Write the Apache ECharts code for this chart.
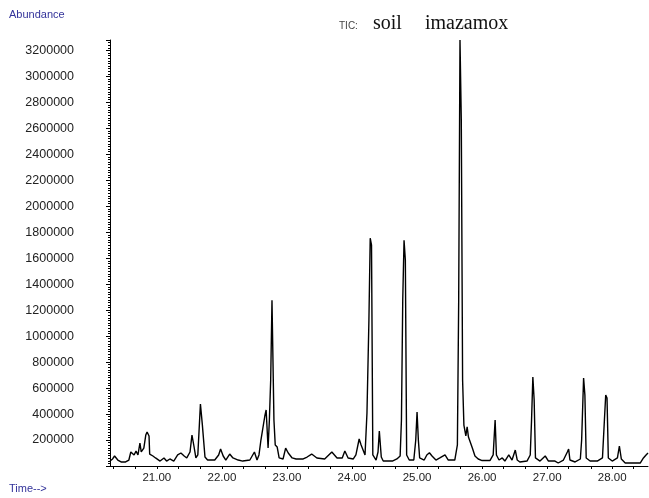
<!DOCTYPE html>
<html lang="en">
<head>
    <meta charset="UTF-8">
    <title>TIC: soil imazamox</title>
    <script src="https://cdn.jsdelivr.net/npm/echarts@6/dist/echarts.min.js"></script>
    <style>
        html, body { margin: 0; padding: 0; background: #fff; }
        #main { width: 649px; height: 498px; }
    </style>
</head>
<body>
<div id="main"></div>
<script>
    // retention time (min)
    var times = [
        20.28, 20.32, 20.35, 20.40, 20.45, 20.52, 20.57, 20.60, 20.65, 20.68,
        20.71, 20.74, 20.76, 20.80, 20.83, 20.85, 20.88, 20.89, 20.94, 20.98,
        21.05, 21.11, 21.15, 21.20, 21.26, 21.32, 21.37, 21.42, 21.46, 21.51,
        21.54, 21.57, 21.60, 21.63, 21.67, 21.70, 21.74, 21.78, 21.89, 21.95,
        21.98, 22.02, 22.06, 22.12, 22.17, 22.25, 22.32, 22.43, 22.50, 22.54,
        22.57, 22.60, 22.63, 22.66, 22.68, 22.71, 22.73, 22.75, 22.77, 22.79,
        22.80, 22.82, 22.85, 22.88, 22.94, 22.98, 23.02, 23.05, 23.08,
        23.14, 23.25, 23.31, 23.38, 23.46, 23.58, 23.69, 23.77, 23.85, 23.89,
        23.94, 24.02, 24.06, 24.11, 24.14, 24.16, 24.20, 24.23, 24.26, 24.28,
        24.30, 24.32, 24.37, 24.40, 24.42, 24.45, 24.48, 24.62, 24.69, 24.74,
        24.76, 24.78, 24.80, 24.82, 24.84, 24.88, 24.95, 24.98, 25.00, 25.02,
        25.04, 25.11, 25.15, 25.19, 25.23, 25.29, 25.35, 25.43, 25.48, 25.58,
        25.62, 25.64, 25.66, 25.68, 25.70, 25.72, 25.75, 25.77, 25.79, 25.82,
        25.85, 25.89, 25.94, 26.00,
        26.12, 26.17, 26.20, 26.22, 26.26, 26.31, 26.35, 26.41, 26.43, 26.46,
        26.51, 26.54, 26.58, 26.69, 26.74, 26.76, 26.78, 26.80, 26.82, 26.89,
        26.97, 27.02, 27.12, 27.17, 27.25, 27.31, 27.33, 27.35, 27.43, 27.51,
        27.53, 27.56, 27.58, 27.60, 27.66, 27.77, 27.85, 27.88, 27.90, 27.92,
        27.94, 28.00, 28.08, 28.11, 28.14, 28.20, 28.43, 28.48, 28.52, 28.55
    ];

    // abundance
    var abundance = [
        38000, 54000, 77000, 46000, 31000, 31000, 46000, 108000, 85000, 115000,
        85000, 177000, 108000, 138000, 238000, 262000, 231000, 92000, 77000, 62000,
        38000, 62000, 38000, 54000, 38000, 85000, 100000, 77000, 62000, 108000,
        238000, 154000, 62000, 85000, 477000, 315000, 69000, 46000, 46000, 85000,
        131000, 77000, 46000, 92000, 62000, 46000, 38000, 46000, 108000, 46000,
        85000, 200000, 215000, 385000, 431000, 138000, 354000, 662000, 1277000, 1262000,
        354000, 162000, 146000, 62000, 54000, 138000, 100000, 108000, 62000,
        54000, 54000, 69000, 92000, 62000, 54000, 108000, 62000, 62000, 115000,
        62000, 54000, 85000, 208000, 162000, 177000, 85000, 408000, 1123000, 1754000,
        1700000, 85000, 46000, 108000, 269000, 69000, 38000, 38000, 54000, 77000,
        354000, 1277000, 1738000, 1585000, 85000, 46000, 46000, 200000, 415000, 200000,
        62000, 46000, 85000, 102000, 77000, 46000, 62000, 85000, 46000, 46000,
        162000, 1277000, 3280000, 2662000, 662000, 315000, 231000, 302000, 223000, 215000,
        138000, 77000, 54000, 42000,
        42000, 85000, 354000, 85000, 46000, 62000, 38000, 85000, 100000, 46000,
        123000, 46000, 31000, 38000, 85000, 354000, 685000, 508000, 62000, 38000,
        77000, 38000, 38000, 23000, 46000, 108000, 131000, 46000, 31000, 54000,
        200000, 677000, 546000, 62000, 38000, 38000, 62000, 354000, 546000, 523000,
        62000, 38000, 62000, 154000, 54000, 23000, 23000, 62000, 85000, 100000
    ];

    // x tick labels and tick marks
    var timeLabels = [21, 22, 23, 24, 25, 26, 27, 28];
    var timeTicks = [20.33, 20.67, 21, 21.33, 21.67, 22, 22.33, 22.67, 23, 23.33, 23.67,
        24, 24.33, 24.67, 25, 25.33, 25.67, 26, 26.33, 26.67, 27, 27.33, 27.67, 28, 28.33];

    var chart = echarts.init(document.getElementById('main'));

    var points = [];
    for (var i = 0; i < times.length; i++) {
        points.push([times[i], abundance[i]]);
    }

    var blue = '#33339a';

    var option = {
        animation: false,
        backgroundColor: '#fff',
        grid: { left: 110, right: 1, top: 40, bottom: 32 },
        xAxis: {
            type: 'value',
            min: 20.28,
            max: 28.55,
            axisLine: { show: true, lineStyle: { color: '#000', width: 1 } },
            axisTick: { show: true, customValues: timeTicks, length: 3, lineStyle: { color: '#000' } },
            axisLabel: {
                customValues: timeLabels,
                formatter: function (v) { return v.toFixed(2); },
                margin: 6,
                color: '#222',
                fontSize: 11.5,
                fontFamily: 'Liberation Sans'
            },
            splitLine: { show: false }
        },
        yAxis: {
            type: 'value',
            min: 0,
            max: 3280000,
            interval: 200000,
            axisLine: { show: true, lineStyle: { color: '#000', width: 1 } },
            axisTick: { show: true, length: 4, lineStyle: { color: '#000' } },
            minorTick: { show: true, splitNumber: 10, length: 2, lineStyle: { color: '#000' } },
            axisLabel: {
                showMaxLabel: false,
                formatter: function (v) {
                    if (v === 0 || v % 200000 !== 0) return '';
                    return String(v);
                },
                margin: 36,
                padding: [6, 0, 0, 0],
                color: '#222',
                fontSize: 12.5,
                fontFamily: 'Liberation Sans'
            },
            splitLine: { show: false },
            minorSplitLine: { show: false }
        },
        graphic: [
            { type: 'text', left: 9, top: 9, style: { text: 'Abundance', fill: blue, font: '11px "Liberation Sans"' } },
            { type: 'text', left: 9, top: 483, style: { text: 'Time-->', fill: blue, font: '11px "Liberation Sans"' } },
            { type: 'text', left: 339, top: 21, style: { text: 'TIC:', fill: '#444', font: '10px "Liberation Sans"' } },
            { type: 'text', left: 373, top: 14, style: { text: 'soil', fill: '#111', font: '20px "Liberation Serif"' } },
            { type: 'text', left: 425, top: 14, style: { text: 'imazamox', fill: '#111', font: '20px "Liberation Serif"' } }
        ],
        series: [{
            type: 'line',
            data: points,
            showSymbol: false,
            clip: true,
            lineStyle: { color: '#000', width: 1.4 }
        }]
    };
    chart.setOption(option);
</script>
</body>
</html>
